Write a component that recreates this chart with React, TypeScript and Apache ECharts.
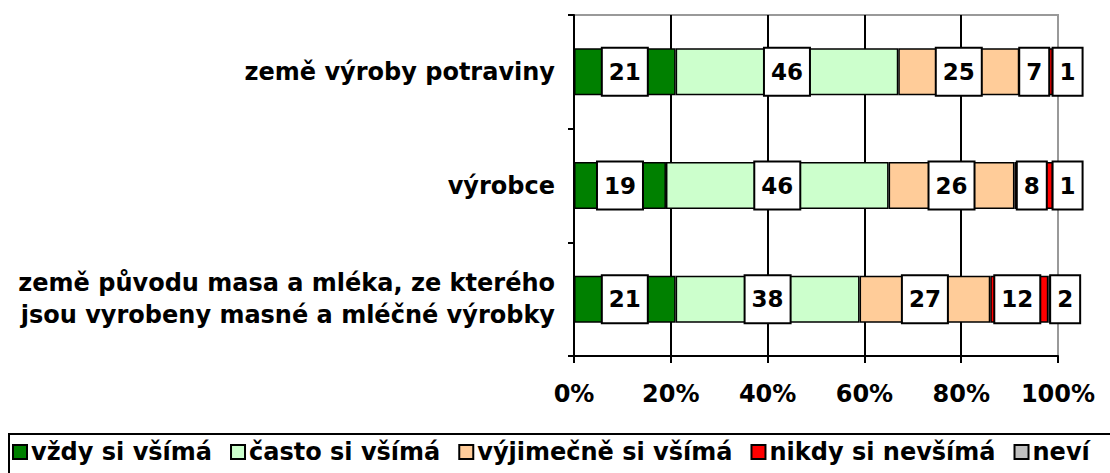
import React, { useEffect, useRef } from "react";
import * as echarts from "echarts";

const categories = [
  "země výroby potraviny",
  "výrobce",
  "země původu masa a mléka, ze kterého\njsou vyrobeny masné a mléčné výrobky",
];
const seriesNames = [
  "vždy si všímá",
  "často si všímá",
  "výjimečně si všímá",
  "nikdy si nevšímá",
  "neví",
];
const vzdy = [21, 19, 21];
const casto = [46, 46, 38];
const vyjimecne = [25, 26, 27];
const nikdy = [7, 8, 12];
const nevi = [1, 1, 2];
const seriesValues = [vzdy, casto, vyjimecne, nikdy, nevi];
const colors = ["#008000", "#CCFFCC", "#FFCC99", "#FF0000", "#C0C0C0"];
const xMin = 0;
const xMax = 100;
const xStep = 20;

const FONT = "DejaVu Sans";

export default function App() {
  const ref = useRef<HTMLDivElement>(null);
  useEffect(() => {
    if (!ref.current) return;
    const chart = echarts.init(ref.current, null, { renderer: "svg" });
    const series = seriesNames.map((name, i) => ({
      name,
      type: "bar",
      stack: "total",
      data: seriesValues[i],
      barWidth: 47,
      itemStyle: { color: colors[i], borderColor: "#000", borderWidth: 1.5 },
      label: {
        show: true,
        position: "inside",
        formatter: "{c}",
        backgroundColor: "#fff",
        borderColor: "#000",
        borderWidth: 2,
        padding: [11, 6, 11, 6],
        fontFamily: FONT,
        fontWeight: "bold",
        fontSize: 23,
        lineHeight: 24,
        color: "#000",
        offset: i === 4 ? [12, 0] : i === 3 ? [-2, 0] : [0, 0],
      },
    }));
    chart.setOption({
      animation: false,
      backgroundColor: "#fff",
      grid: {
        left: 574,
        right: 52,
        top: 15,
        bottom: 117,
        show: true,
        borderColor: "#999",
        borderWidth: 2,
      },
      xAxis: {
        type: "value",
        min: xMin,
        max: xMax,
        interval: xStep,
        axisLine: { show: true, lineStyle: { color: "#000", width: 2 } },
        axisTick: { show: true, length: 7, lineStyle: { color: "#000", width: 2 } },
        splitLine: { show: true, showMaxLine: false, lineStyle: { color: "#000", width: 2 } },
        axisLabel: {
          formatter: "{value}%",
          fontFamily: FONT,
          fontWeight: "bold",
          fontSize: 24,
          color: "#000",
          margin: 26,
        },
      },
      yAxis: {
        type: "category",
        data: categories,
        inverse: true,
        axisLine: { show: true, lineStyle: { color: "#000", width: 2 } },
        axisTick: { show: true, length: 6, lineStyle: { color: "#000", width: 2 } },
        axisLabel: {
          fontFamily: FONT,
          fontWeight: "bold",
          fontSize: 24,
          lineHeight: 32,
          color: "#000",
          margin: 19,
          align: "right",
        },
      },
      legend: {
        data: seriesNames,
        left: 12,
        top: 440,
        padding: 0,
        icon: "rect",
        itemWidth: 14,
        itemHeight: 14,
        itemGap: 18,
        textStyle: { fontFamily: FONT, fontWeight: "bold", fontSize: 24, color: "#000", padding: [0, 0, 0, -1] },
      },
      graphic: [
        {
          type: "rect",
          shape: { x: 9, y: 434, width: 1120, height: 60 },
          style: { fill: "none", stroke: "#000", lineWidth: 2 },
          z: 10,
        },
      ],
      series,
    });
    return () => chart.dispose();
  }, []);
  return (
    <div
      ref={ref}
      style={{ position: "fixed", left: 0, top: 0, width: 1110, height: 473, background: "#fff" }}
    />
  );
}
